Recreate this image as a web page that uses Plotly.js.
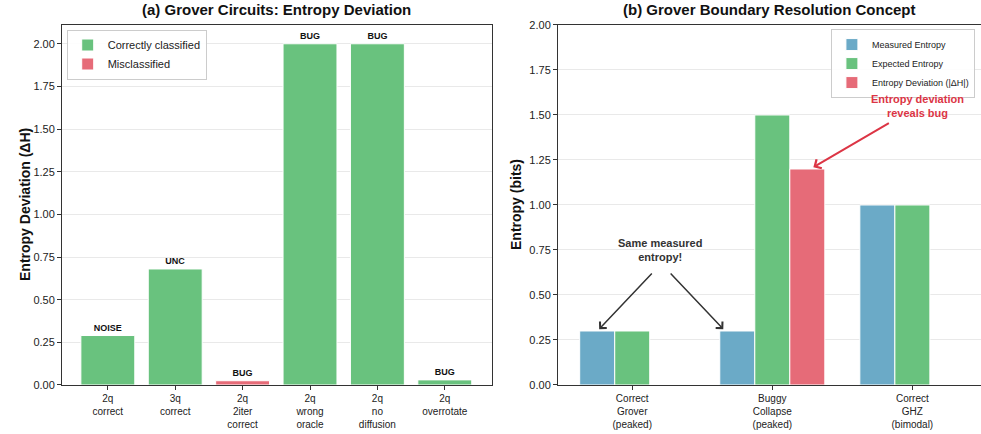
<!DOCTYPE html>
<html>
<head>
<meta charset="utf-8">
<script src="https://cdn.plot.ly/plotly-3.0.1.min.js"></script>
<style>html,body{margin:0;padding:0;background:#fff;}#chart{width:981px;height:434px;}</style>
</head>
<body>
<div id="chart"></div>
<script>
// ---- Panel (a) data ----
const circuits = ["2q<br>correct", "3q<br>correct", "2q<br>2iter<br>correct", "2q<br>wrong<br>oracle", "2q<br>no<br>diffusion", "2q<br>overrotate"];
const deviation = [0.29, 0.68, 0.025, 2.0, 2.0, 0.03];
const verdicts = ["NOISE", "UNC", "BUG", "BUG", "BUG", "BUG"];
const correctlyClassified = [true, true, false, true, true, true];

// ---- Panel (b) data ----
const scenarios = ["Correct<br>Grover<br>(peaked)", "Buggy<br>Collapse<br>(peaked)", "Correct<br>GHZ<br>(bimodal)"];
const measuredEntropy = [0.30, 0.30, 1.00];
const expectedEntropy = [0.30, 1.50, 1.00];
const entropyDeviation = [0.0, 1.20, 0.0];

const GREEN = "#69C27E", RED = "#E66B78", BLUE = "#6BAAC7";
const FONT = "Liberation Sans, Arial, sans-serif";

function pick(arr, flag) { return arr.filter((_, i) => correctlyClassified[i] === flag); }

const traces = [
  {type: "bar", x: pick(circuits, true), y: pick(deviation, true), text: pick(verdicts, true),
   name: "Correctly classified", marker: {color: GREEN, line: {color: "#fff", width: 1}}, width: 0.8,
   textposition: "outside", cliponaxis: false, textfont: {size: 9, color: "#111", family: FONT, weight: "bold"},
   xaxis: "x", yaxis: "y", legend: "legend", hoverinfo: "skip"},
  {type: "bar", x: pick(circuits, false), y: pick(deviation, false), text: pick(verdicts, false),
   name: "Misclassified", marker: {color: RED, line: {color: "#fff", width: 1}}, width: 0.8,
   textposition: "outside", cliponaxis: false, textfont: {size: 9, color: "#111", family: FONT, weight: "bold"},
   xaxis: "x", yaxis: "y", legend: "legend", hoverinfo: "skip"},
  {type: "bar", x: scenarios, y: measuredEntropy, name: "Measured Entropy",
   marker: {color: BLUE, line: {color: "#fff", width: 1}}, xaxis: "x2", yaxis: "y2", legend: "legend2", hoverinfo: "skip"},
  {type: "bar", x: scenarios, y: expectedEntropy, name: "Expected Entropy",
   marker: {color: GREEN, line: {color: "#fff", width: 1}}, xaxis: "x2", yaxis: "y2", legend: "legend2", hoverinfo: "skip"},
  {type: "bar", x: scenarios, y: entropyDeviation, name: "Entropy Deviation (|ΔH|)",
   marker: {color: RED, line: {color: "#fff", width: 1}}, xaxis: "x2", yaxis: "y2", legend: "legend2", hoverinfo: "skip"}
];

const axisCommon = {showline: true, linecolor: "#333", linewidth: 1, ticks: "outside", ticklen: 4, tickcolor: "#333",
  tickfont: {size: 11, color: "#222", family: FONT}, automargin: false};

const layout = {
  width: 981, height: 434,
  margin: {l: 0, r: 0, t: 0, b: 0, autoexpand: false},
  paper_bgcolor: "#fff", plot_bgcolor: "#fff",
  font: {family: FONT, color: "#222"},
  barmode: "group", bargap: 0.25, bargroupgap: 0,
  xaxis: Object.assign({}, axisCommon, {domain: [0.0632, 0.5015], type: "category", range: [-0.68, 5.7],
    categoryorder: "array", categoryarray: circuits,
    mirror: true, tickfont: {size: 10, color: "#222", family: FONT}, showgrid: false}),
  yaxis: Object.assign({}, axisCommon, {domain: [0.1129, 0.9424], range: [0, 2.11], dtick: 0.25, tickformat: ".2f",
    mirror: true, showgrid: true, gridcolor: "#e9e9e9", zeroline: false}),
  xaxis2: Object.assign({}, axisCommon, {domain: [0.5688, 1.0], type: "category", range: [-0.53, 2.49],
    categoryorder: "array", categoryarray: scenarios,
    mirror: true, tickfont: {size: 10, color: "#222", family: FONT}, showgrid: false, anchor: "y2"}),
  yaxis2: Object.assign({}, axisCommon, {domain: [0.1129, 0.9424], range: [0, 2.0], dtick: 0.25, tickformat: ".2f",
    showgrid: true, gridcolor: "#e9e9e9", zeroline: false, anchor: "x2"}),
  legend: {x: 0.068, y: 0.932, xanchor: "left", yanchor: "top", bgcolor: "rgba(255,255,255,0.9)",
    bordercolor: "#ccc", borderwidth: 1, font: {size: 11, color: "#222", family: FONT}, tracegroupgap: 0, itemwidth: 30},
  legend2: {x: 0.847, y: 0.933, xanchor: "left", yanchor: "top", bgcolor: "rgba(255,255,255,0.9)",
    bordercolor: "#ccc", borderwidth: 1, font: {size: 9, color: "#222", family: FONT}, tracegroupgap: 0, itemwidth: 30},
  annotations: [
    {text: "<b>(a) Grover Circuits: Entropy Deviation</b>", xref: "paper", yref: "paper", x: 0.2823, y: 1.0,
     xanchor: "center", yanchor: "top", yshift: 1, showarrow: false, font: {size: 15, color: "#111", family: FONT}},
    {text: "<b>(b) Grover Boundary Resolution Concept</b>", xref: "paper", yref: "paper", x: 0.784, y: 1.0,
     xanchor: "center", yanchor: "top", yshift: 1, showarrow: false, font: {size: 15, color: "#111", family: FONT}},
    {text: "<b>Entropy Deviation (ΔH)</b>", xref: "paper", yref: "paper", x: 15 / 981, y: (434 - 205) / 434,
     textangle: -90, showarrow: false, font: {size: 14, color: "#111", family: FONT}},
    {text: "<b>Entropy (bits)</b>", xref: "paper", yref: "paper", x: 516 / 981, y: (434 - 205) / 434,
     textangle: -90, showarrow: false, font: {size: 14, color: "#111", family: FONT}},
    {text: "<b>Same measured<br>entropy!</b>", xref: "x2", yref: "y2", x: 0.2, y: 0.75, showarrow: false,
     font: {size: 11, color: "#333", family: FONT}},
    {text: "", xref: "x2", yref: "y2", x: -0.236, y: 0.31, axref: "x2", ayref: "y2", ax: 0.15, ay: 0.628,
     showarrow: true, arrowhead: 4, arrowsize: 1.2, arrowwidth: 1.5, arrowcolor: "#333"},
    {text: "", xref: "x2", yref: "y2", x: 0.65, y: 0.31, axref: "x2", ayref: "y2", ax: 0.264, ay: 0.628,
     showarrow: true, arrowhead: 4, arrowsize: 1.2, arrowwidth: 1.5, arrowcolor: "#333"},
    {text: "<b>Entropy deviation<br>reveals bug</b>", xref: "x2", yref: "y2", x: 2.036, y: 1.55, showarrow: false,
     font: {size: 11, color: "#DC3545", family: FONT}},
    {text: "", xref: "x2", yref: "y2", x: 1.293, y: 1.21, axref: "x2", ayref: "y2", ax: 1.843, ay: 1.46,
     showarrow: true, arrowhead: 4, arrowsize: 1, arrowwidth: 2, arrowcolor: "#DC3545"}
  ]
};

Plotly.newPlot("chart", traces, layout, {displayModeBar: false, staticPlot: true});
</script>
</body>
</html>
